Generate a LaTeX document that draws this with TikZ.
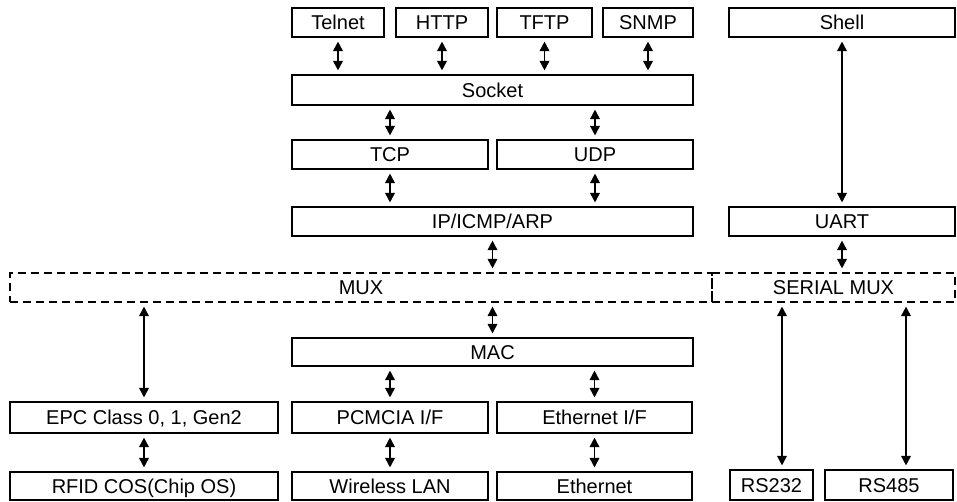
\documentclass[tikz,border=0pt]{standalone}
\usepackage{fontspec}
\setmainfont{Liberation Sans}
\usetikzlibrary{arrows.meta}
\begin{document}
\begin{tikzpicture}[x=1pt,y=-1pt,
  box/.style={draw=black, line width=1.1pt, inner sep=0pt, anchor=center,
    font=\fontsize{20pt}{23pt}\selectfont, text height=14.4pt, text depth=0pt},
  dbox/.style={box, dashed, dash pattern=on 8pt off 5pt},
  arr/.style={{Triangle[length=9.5pt,width=9.5pt]}-{Triangle[length=9.5pt,width=9.5pt]},
    line width=1.7pt, shorten <=4pt, shorten >=4pt}]
\useasboundingbox (0,0) rectangle (957,501);
% top row
\node[box, minimum width=92pt, minimum height=29pt] (telnet) at (338,22.5) {Telnet};
\node[box, minimum width=92pt, minimum height=29pt] (http) at (442,22.5) {HTTP};
\node[box, minimum width=95pt, minimum height=29pt] (tftp) at (544.5,22.5) {TFTP};
\node[box, minimum width=90pt, minimum height=29pt] (snmp) at (648,22.5) {SNMP};
\node[box, minimum width=226pt, minimum height=29pt] (shell) at (842,22.5) {Shell};
% stack
\node[box, minimum width=401pt, minimum height=30pt] (socket) at (492.5,90) {Socket};
\node[box, minimum width=196pt, minimum height=29pt] (tcp) at (390,154.5) {TCP};
\node[box, minimum width=196pt, minimum height=29pt] (udp) at (595,154.5) {UDP};
\node[box, minimum width=401pt, minimum height=29pt] (ip) at (492.5,221.5) {IP/ICMP/ARP};
\node[box, minimum width=226pt, minimum height=29pt] (uart) at (842,221.5) {UART};
% mux
\node[dbox, minimum width=702pt, minimum height=29pt] (mux) at (361,287.5) {MUX};
\node[dbox, minimum width=243pt, minimum height=29pt] (smux) at (833.5,287.5) {SERIAL MUX};
% lower
\node[box, minimum width=401pt, minimum height=28pt] (mac) at (492.5,352) {MAC};
\node[box, minimum width=268pt, minimum height=31pt] (epc) at (144,417.5) {EPC Class 0, 1, Gen2};
\node[box, minimum width=196pt, minimum height=31pt] (pcmcia) at (390,417.5) {PCMCIA I/F};
\node[box, minimum width=195pt, minimum height=31pt] (ethif) at (594.5,417.5) {Ethernet I/F};
\node[box, minimum width=268pt, minimum height=28pt] (rfid) at (144,486) {RFID COS(Chip OS)};
\node[box, minimum width=196pt, minimum height=28pt] (wlan) at (390,486) {Wireless LAN};
\node[box, minimum width=195pt, minimum height=28pt] (eth) at (594.5,486) {Ethernet};
\node[box, minimum width=83pt, minimum height=30pt] (rs232) at (771.5,485) {RS232};
\node[box, minimum width=128pt, minimum height=30pt] (rs485) at (889,485) {RS485};
% connector x positions
\coordinate (xa) at (782,0);
\coordinate (xb) at (906,0);
% arrows
\draw[arr] (telnet.south) -- (telnet.south |- socket.north);
\draw[arr] (http.south) -- (http.south |- socket.north);
\draw[arr] (tftp.south) -- (tftp.south |- socket.north);
\draw[arr] (snmp.south) -- (snmp.south |- socket.north);
\draw[arr] (tcp.north |- socket.south) -- (tcp.north);
\draw[arr] (udp.north |- socket.south) -- (udp.north);
\draw[arr] (tcp.south) -- (tcp.south |- ip.north);
\draw[arr] (udp.south) -- (udp.south |- ip.north);
\draw[arr] (ip.south) -- (ip.south |- mux.north);
\draw[arr] (shell.south) -- (uart.north);
\draw[arr] (uart.south) -- (uart.south |- smux.north);
\draw[arr] (mac.north |- mux.south) -- (mac.north);
\draw[arr] (epc.north |- mux.south) -- (epc.north);
\draw[arr] (pcmcia.north |- mac.south) -- (pcmcia.north);
\draw[arr] (ethif.north |- mac.south) -- (ethif.north);
\draw[arr] (epc.south) -- (rfid.north);
\draw[arr] (pcmcia.south) -- (wlan.north);
\draw[arr] (ethif.south) -- (eth.north);
\draw[arr] (xa |- smux.south) -- (xa |- rs232.north);
\draw[arr] (xb |- smux.south) -- (xb |- rs485.north);
\end{tikzpicture}
\end{document}
